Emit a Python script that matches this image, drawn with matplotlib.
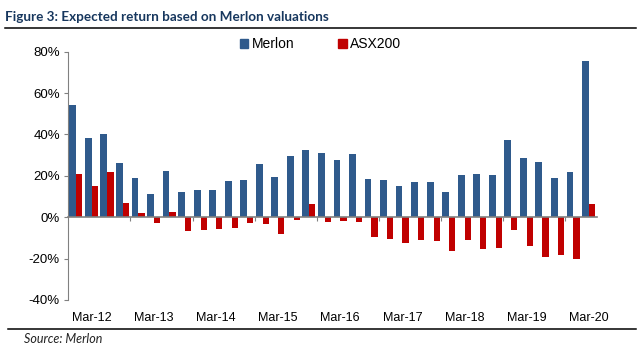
import numpy as np
import matplotlib.pyplot as plt
from matplotlib.patches import Patch
from matplotlib.lines import Line2D

# quarterly observations, Dec-11 .. Mar-20
quarters = ["Dec-11",
            "Mar-12", "Jun-12", "Sep-12", "Dec-12",
            "Mar-13", "Jun-13", "Sep-13", "Dec-13",
            "Mar-14", "Jun-14", "Sep-14", "Dec-14",
            "Mar-15", "Jun-15", "Sep-15", "Dec-15",
            "Mar-16", "Jun-16", "Sep-16", "Dec-16",
            "Mar-17", "Jun-17", "Sep-17", "Dec-17",
            "Mar-18", "Jun-18", "Sep-18", "Dec-18",
            "Mar-19", "Jun-19", "Sep-19", "Dec-19",
            "Mar-20"]

merlon = [54.3, 38.3, 40.2, 26.2, 19.0, 11.3, 22.4, 12.2, 13.2, 13.2,
          17.5, 18.0, 25.7, 19.5, 29.6, 32.5, 31.0, 27.6, 30.6, 18.5,
          18.0, 15.1, 17.0, 17.0, 12.2, 20.4, 20.9, 20.4, 37.3, 28.6,
          26.7, 19.0, 21.9, 75.5]

asx200 = [21.1, 15.3, 22.0, 6.9, 1.8, -2.6, 2.7, -6.5, -6.0, -5.5,
          -5.0, -2.6, -3.1, -7.9, -1.2, 6.4, -2.1, -1.6, -2.1, -9.8,
          -10.3, -12.7, -10.8, -11.3, -16.1, -10.8, -15.6, -14.7, -6.0, -13.7,
          -19.0, -18.5, -20.0, 6.4]

tick_labels = ["Mar-12", "Mar-13", "Mar-14", "Mar-15", "Mar-16",
               "Mar-17", "Mar-18", "Mar-19", "Mar-20"]

blue = "#2F5A8C"
red = "#C00000"
grey = "#808080"

plt.rcParams["font.family"] = ["Liberation Sans", "DejaVu Sans"]

fig = plt.figure(figsize=(6.41, 3.55), dpi=100)
ax = fig.add_axes([0.1066, 0.155, 0.824, 0.6994])

x = np.arange(len(quarters))
ax.bar(x - 0.21, merlon, 0.44, color=blue, zorder=2)
ax.bar(x + 0.21, asx200, 0.40, color=red, zorder=2)

ax.set_xlim(-0.5, len(quarters) - 0.5)
ax.set_ylim(-40, 80)
ax.set_yticks(np.arange(-40, 81, 20))
ax.set_yticklabels([f"{v}%" for v in range(-40, 81, 20)], fontsize=9.5)
ax.tick_params(axis="y", length=3, color=grey, pad=3)

# category axis crosses at zero, labels stay at the bottom
for s in ["top", "right"]:
    ax.spines[s].set_visible(False)
ax.spines["left"].set_color(grey)
ax.spines["bottom"].set_position(("data", 0))
ax.spines["bottom"].set_color(grey)
ax.spines["bottom"].set_linewidth(1.2)
ax.spines["bottom"].set_zorder(3)
ax.set_xticks(np.arange(3.5, len(quarters), 4))
ax.tick_params(axis="x", length=3, color=grey, labelbottom=False)

sec = ax.secondary_xaxis("bottom")
sec.set_xticks(np.arange(1, len(quarters), 4))
sec.set_xticklabels(tick_labels, fontsize=9)
sec.tick_params(length=0, pad=9)
sec.spines["bottom"].set_visible(False)

handles = [Patch(color=blue, label="Merlon"), Patch(color=red, label="ASX200")]
fig.legend(handles=handles, loc="center", bbox_to_anchor=(0.5, 0.876),
           ncol=2, frameon=False, fontsize=10, handlelength=0.6,
           handleheight=0.6, handletextpad=0.25, columnspacing=3.2)

fig.text(0.008, 0.953, "Figure 3: Expected return based on Merlon valuations",
         fontsize=9.7, fontweight="bold", color="#17375E", family="Lato",
         va="center")
fig.add_artist(Line2D([0.008, 0.992], [0.922, 0.922], color="black", lw=1.1))
fig.add_artist(Line2D([0.012, 0.992], [0.073, 0.073], color="black", lw=1.1))
fig.text(0.038, 0.045, "Source: Merlon", fontsize=9, style="italic",
         family="Lato", color="#222222", va="center")

fig.savefig("out.png", dpi=100)
